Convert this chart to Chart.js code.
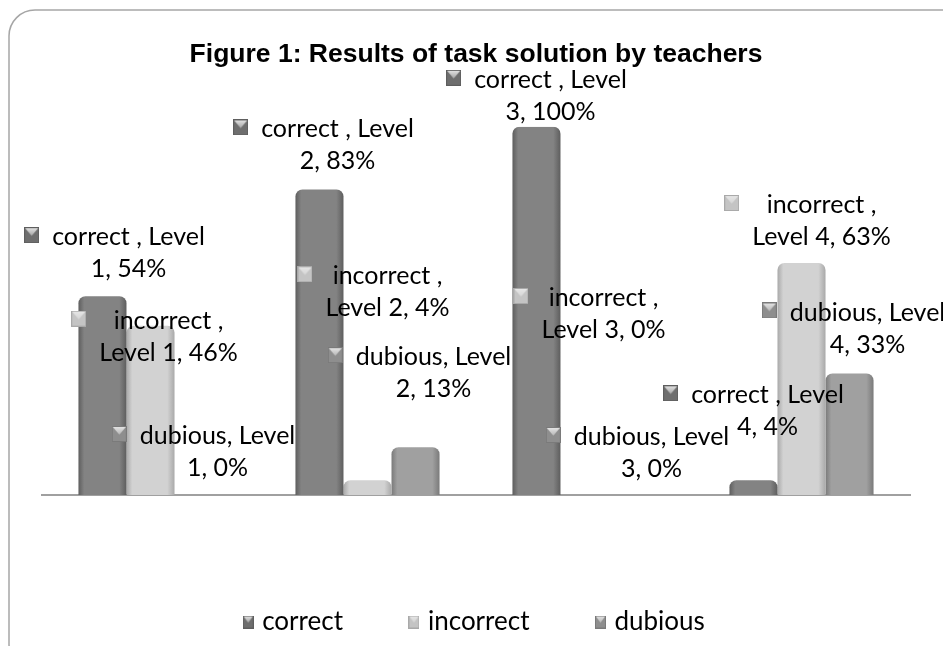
<!DOCTYPE html>
<html>
<head>
<meta charset="utf-8">
<script src="https://cdn.jsdelivr.net/npm/chart.js@4/dist/chart.umd.min.js"></script>
<style>
  html, body { margin: 0; padding: 0; background: #fff; }
  #wrap { width: 943px; height: 646px; }
</style>
</head>
<body>
<div id="wrap"><canvas id="taskChart" width="943" height="646"></canvas></div>
<script>
var levels = ["Level 1", "Level 2", "Level 3", "Level 4"];
var seriesNames = ["correct ", "incorrect ", "dubious"];
var correctVals = [54, 83, 100, 4];
var incorrectVals = [46, 4, 0, 63];
var dubiousVals = [0, 13, 0, 33];

// label placement relative to bar top (dx, dy) - Excel labels were dragged around
var labelOffsets = [
    [[26, -59], [18, -60], [14, -47], [14, -85]],
    [[18, -5], [20, -204], [19, -197], [20, -58]],
    [[19, -59], [18, -90], [19, -58], [18, -61]]
];

var shades = [
    { edge: "#5e5e5e", mid: "#838383", key: "#6e6e6e" },
    { edge: "#a9a9a9", mid: "#d2d2d2", key: "#c4c4c4" },
    { edge: "#7a7a7a", mid: "#a0a0a0", key: "#8e8e8e" }
];

var labelFont = "25px Lato, 'Open Sans', sans-serif";

function keyImage(s, w, h) {
    var c = document.createElement("canvas");
    c.width = w; c.height = h;
    var g = c.getContext("2d");
    var lg = g.createLinearGradient(0, 0, 0, h);
    lg.addColorStop(0, "#e8e8e8");
    lg.addColorStop(1, s.key);
    g.fillStyle = s.key;
    g.fillRect(0, 0, w, h);
    g.fillStyle = lg;
    g.beginPath();
    g.moveTo(1, 1); g.lineTo(w - 1, 1); g.lineTo(w / 2, h * 0.55); g.closePath();
    g.fill();
    g.strokeStyle = s.edge;
    g.strokeRect(0.5, 0.5, w - 1, h - 1);
    return c;
}

function wrapText(ctx, text, maxW) {
    var words = text.split(" ");
    var lines = [];
    var cur = "";
    words.forEach(function (w) {
        var t = cur ? cur + " " + w : w;
        if (cur && ctx.measureText(t).width > maxW) {
            lines.push(cur);
            cur = w;
        } else {
            cur = t;
        }
    });
    if (cur) lines.push(cur);
    return lines;
}

var frame = {
    id: "frame",
    beforeDraw: function (chart) {
        var ctx = chart.ctx;
        ctx.save();
        ctx.strokeStyle = "#a6a6a6";
        ctx.lineWidth = 1.5;
        ctx.beginPath();
        ctx.roundRect(9, 10, 960, 660, 26);
        ctx.stroke();
        ctx.restore();
    }
};

var cylinders = {
    id: "cylinders",
    beforeDatasetsDraw: function (chart) {
        var ctx = chart.ctx;
        chart.data.datasets.forEach(function (ds, i) {
            chart.getDatasetMeta(i).data.forEach(function (bar) {
                var x0 = bar.x - bar.width / 2, x1 = bar.x + bar.width / 2;
                var g = ctx.createLinearGradient(x0, 0, x1, 0);
                g.addColorStop(0, shades[i].edge);
                g.addColorStop(0.12, shades[i].mid);
                g.addColorStop(0.85, shades[i].mid);
                g.addColorStop(1, shades[i].edge);
                bar.options.backgroundColor = g;
            });
        });
    }
};

var valueLabels = {
    id: "valueLabels",
    afterDatasetsDraw: function (chart) {
        var ctx = chart.ctx;
        ctx.save();
        ctx.font = labelFont;
        ctx.fillStyle = "#000";
        ctx.textAlign = "center";
        ctx.textBaseline = "middle";
        chart.data.datasets.forEach(function (ds, i) {
            var key = keyImage(shades[i], 15, 16);
            chart.getDatasetMeta(i).data.forEach(function (bar, j) {
                var text = seriesNames[i] + ", " + levels[j] + ", " + ds.data[j] + "%";
                var lines = wrapText(ctx, text, 163);
                var cx = bar.x + labelOffsets[i][j][0];
                var cy = bar.y + labelOffsets[i][j][1];
                var widest = 0;
                lines.forEach(function (l, k) {
                    widest = Math.max(widest, ctx.measureText(l).width);
                    ctx.fillText(l, cx, cy + k * 32);
                });
                ctx.drawImage(key, cx - widest / 2 - 13 - 15, cy - 10);
            });
        });
        ctx.restore();
    }
};

new Chart("taskChart", {
    type: "bar",
    data: {
        labels: levels,
        datasets: [
            { label: "correct", data: correctVals, pointStyle: keyImage(shades[0], 11, 13) },
            { label: "incorrect", data: incorrectVals, pointStyle: keyImage(shades[1], 11, 13) },
            { label: "dubious", data: dubiousVals, pointStyle: keyImage(shades[2], 11, 13) }
        ].map(function (d, i) {
            d.backgroundColor = function () { return shades[i].mid; };
            d.borderRadius = { topLeft: 7, topRight: 7, bottomLeft: 0, bottomRight: 0 };
            d.borderSkipped = "bottom";
            d.categoryPercentage = 0.664;
            d.barPercentage = 1;
            return d;
        })
    },
    options: {
        responsive: false,
        animation: false,
        layout: { padding: { left: 42, right: 33, top: 0, bottom: 1 } },
        scales: {
            x: {
                grid: { display: false },
                ticks: { display: false },
                border: { color: "#a0a0a0", width: 2 },
                afterFit: function (scale) { scale.height = 44; }
            },
            y: { display: false, min: 0, max: 100 }
        },
        plugins: {
            title: {
                display: true,
                text: "Figure 1: Results of task solution by teachers",
                color: "#000",
                font: { family: "'Liberation Sans', Arial, sans-serif", size: 26.5, weight: "bold" },
                padding: { top: 39, bottom: 56 }
            },
            legend: {
                display: true,
                position: "bottom",
                labels: {
                    usePointStyle: true,
                    pointStyleWidth: 2,
                    color: "#000",
                    padding: 70,
                    font: { family: "Lato, 'Open Sans', sans-serif", size: 26 }
                }
            },
            tooltip: { enabled: false }
        }
    },
    plugins: [frame, cylinders, valueLabels]
});
</script>
</body>
</html>
